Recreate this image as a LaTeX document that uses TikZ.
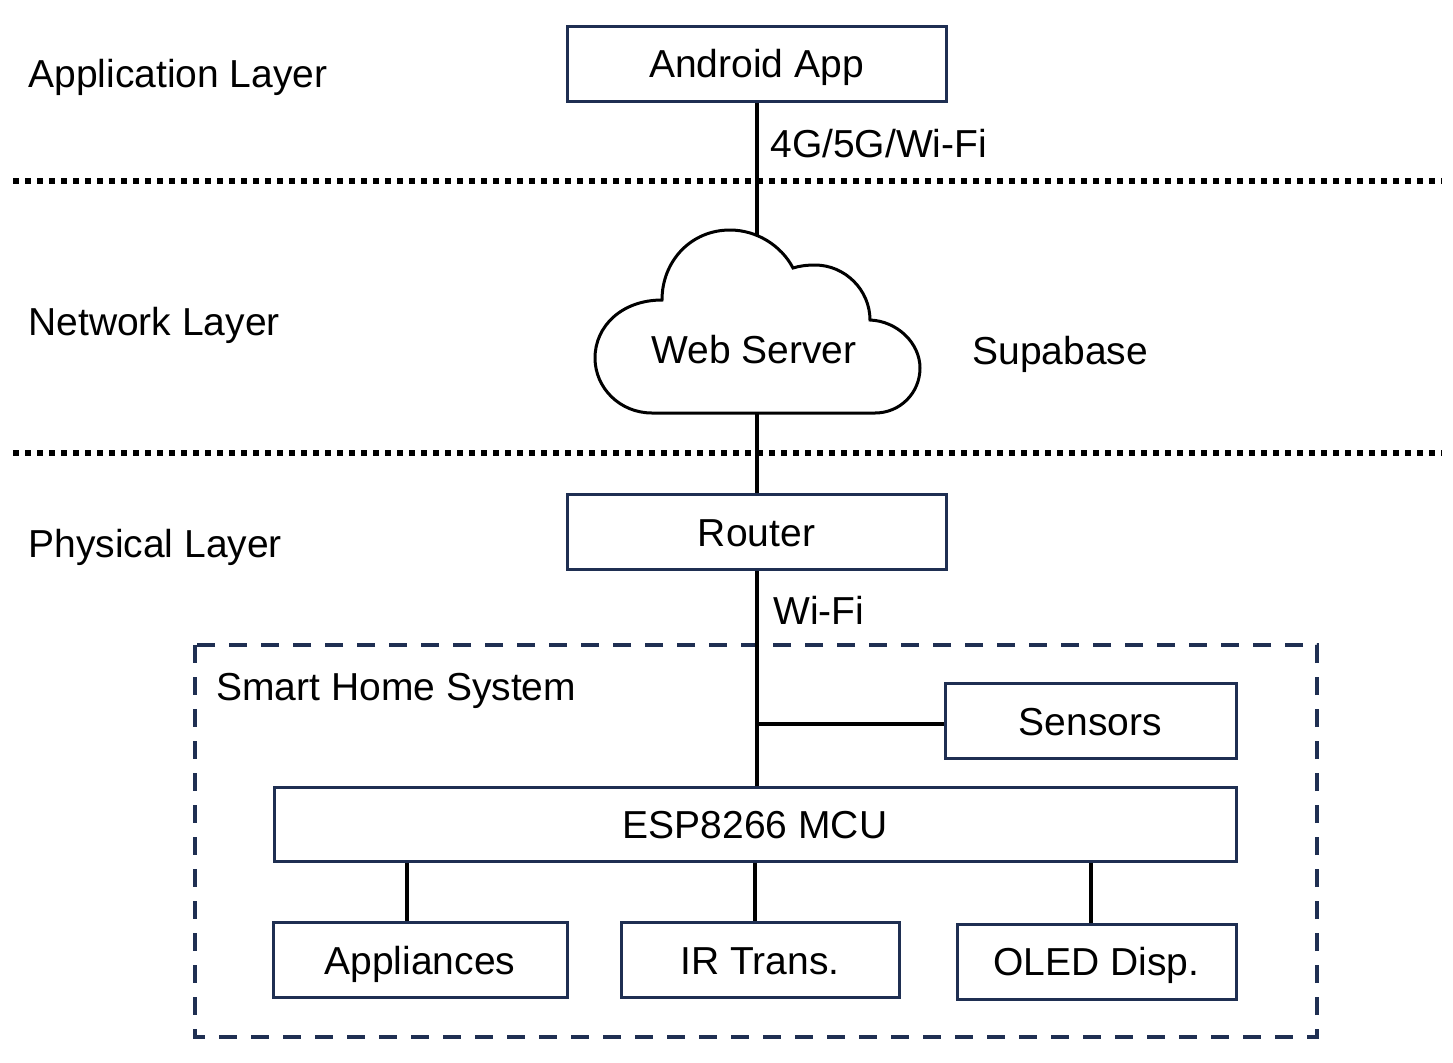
\documentclass[tikz,border=0pt]{standalone}
\usepackage{fontspec}
\setmainfont{Liberation Sans}
\usetikzlibrary{positioning}
\definecolor{navy}{RGB}{31,47,82}

\begin{document}
\begin{tikzpicture}[x=0.5pt,y=-0.5pt,
    every node/.style={font=\fontsize{19.5}{24}\selectfont},
    box/.style={draw=navy,line width=1.5pt,minimum height=37.5pt,inner sep=0pt,
      text height=14pt,text depth=0pt},
    lbl/.style={inner sep=0pt,anchor=base west},
    link/.style={line width=2pt},
    layerline/.style={line width=3pt,dash pattern=on 3pt off 3pt},
    group/.style={draw=navy,line width=2pt,dash pattern=on 9pt off 7pt}]

    \useasboundingbox (0,0) rectangle (1453,1062);

    % layers
    \node[lbl] (applayer) at (28,87) {Application Layer};
    \node[lbl] (netlayer) at (28,335) {Network Layer};
    \node[lbl] (phylayer) at (28,557) {Physical Layer};
    \draw[layerline] (13,181) -- (1442,181);
    \draw[layerline] (13,453) -- (1442,453);

    % smart home group
    \draw[group] (195,645) rectangle (1317,1037);
    \node[lbl] (smart) at (216,700) {Smart Home System};

    % boxes
    \node[box,minimum width=189.5pt] (app) at (756.5,63.5) {Android App};
    \node[box,minimum width=189.5pt] (router) at (756.5,532) {Router};
    \node[box,minimum width=145.5pt] (sensors) at (1090.5,721) {Sensors};
    \node[box,minimum width=481pt,minimum height=37pt] (mcu) at (755,824) {ESP8266 MCU};
    \node[box,minimum width=147pt] (appl) at (420,960) {Appliances};
    \node[box,minimum width=139pt] (ir) at (760,960) {IR Trans.};
    \node[box,minimum width=139.5pt] (oled) at (1096.5,961.5) {OLED Disp.};

    % cloud
    \draw[line width=1.5pt,fill=white]
      (662,300) .. controls (662,261) and (691,230) .. (730,230)
      .. controls (756,230) and (781,245) .. (793,268)
      .. controls (799,266) and (807,265) .. (815,265)
      .. controls (845,265) and (870,290) .. (870,320)
      .. controls (897,321) and (920,343) .. (920,368)
      .. controls (920,393) and (900,413) .. (875,413)
      -- (652,413)
      .. controls (620,413) and (595,388) .. (595,358)
      .. controls (595,326) and (622,300) .. (662,300) -- cycle;
    \node[box,draw=none] (web) at (754,349) {Web Server};
    \coordinate (cloudtop) at (756.5,235);
    \coordinate (cloudbot) at (756.5,413);
    \node[lbl] (supa) at (972,364) {Supabase};

    % links
    \draw[link] (app.south) -- (cloudtop);
    \node[lbl] (cell) at (770,157) {4G/5G/Wi-Fi};
    \draw[link] (cloudbot) -- (router.north);
    \draw[link] (router.south) -- (router.south |- mcu.north);
    \node[lbl] (wifi) at (773,624) {Wi-Fi};
    \coordinate (junc) at ([yshift=-1.5pt]router.south |- sensors.west);
    \draw[link] (junc) -- (junc -| sensors.west);
    \draw[link] ([xshift=-6.5pt]appl.north |- mcu.south) -- ([xshift=-6.5pt]appl.north);
    \draw[link] ([xshift=-2.5pt]ir.north |- mcu.south) -- ([xshift=-2.5pt]ir.north);
    \draw[link] ([xshift=-2.75pt]oled.north |- mcu.south) -- ([xshift=-2.75pt]oled.north);
\end{tikzpicture}
\end{document}
